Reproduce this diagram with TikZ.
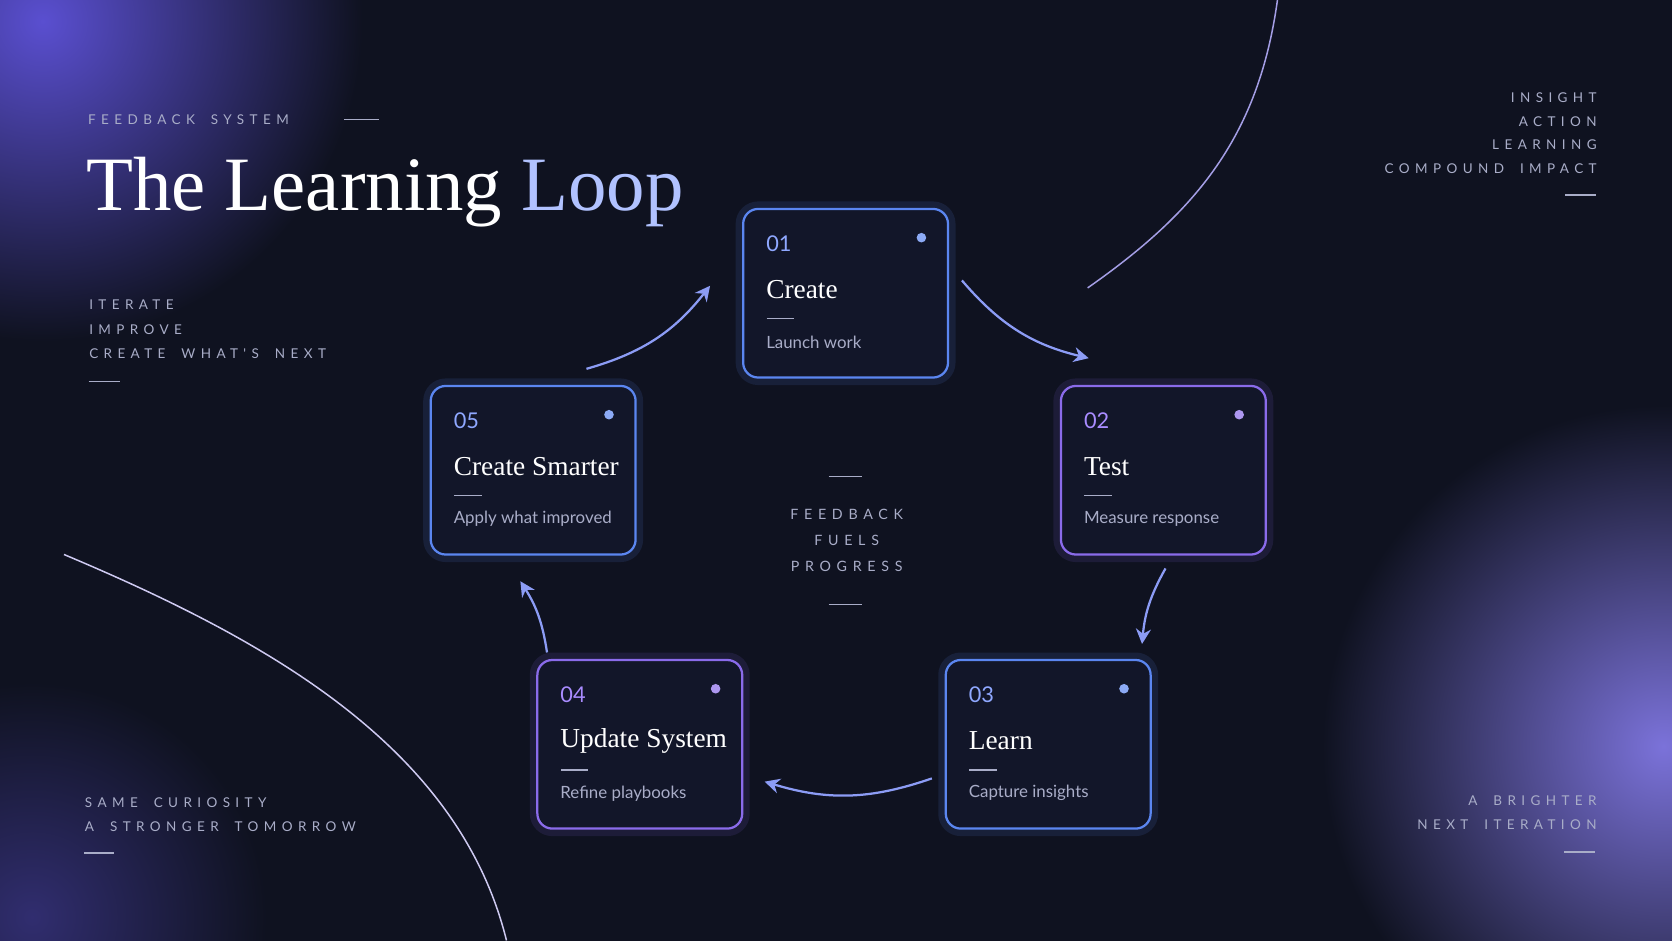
\documentclass[tikz,border=0pt]{standalone}
\usepackage{fontspec}
\setmainfont{Liberation Serif}
\newfontfamily\lato{Lato}
\newfontfamily\spaced[LetterSpace=40,WordSpace=1.8]{Lato}
\usetikzlibrary{positioning,calc,arrows.meta}
\definecolor{bgc}{HTML}{0F1220}
\definecolor{glowc}{HTML}{5A4FD0}
\definecolor{edgeb}{HTML}{5B86F0}
\definecolor{edgep}{HTML}{8A6BEA}
\definecolor{dimtxt}{HTML}{A9ADC8}
\definecolor{numb}{HTML}{8FA8FF}
\definecolor{nump}{HTML}{A98CFF}
\definecolor{arrowc}{HTML}{8C9CF5}
\definecolor{cardfill}{HTML}{121629}
\tikzset{
  card/.style={draw=#1, line width=0.6pt, rounded corners=0.14cm, fill=cardfill,
    minimum width=1.92cm, minimum height=1.58cm, inner sep=0pt},
  glow/.style={draw=#1, line width=4pt, rounded corners=0.14cm, opacity=0.12,
    minimum width=1.92cm, minimum height=1.58cm},
  small/.style={text=dimtxt, font=\spaced\fontsize{3.6}{5}\selectfont, inner sep=0pt},
  flow/.style={arrowc, line width=0.6pt, -{Stealth[length=4pt,width=4pt]}},
  rulew/.style={dimtxt, line width=0.4pt}
}
\newcommand{\stepcard}[6]{% name, x, y, colour, number colour, number
  \node[glow=#4] at (#2,#3) {};
  \node[card=#4] (#1) at (#2,#3) {};
  \node[anchor=west, text=#5, font=\lato\fontsize{5.8}{7}\selectfont, inner sep=0pt]
    at ($(#1.north west)+(22,34)$) {#6};
  \fill[#4!70!white] ($(#1.north east)+(-26,28)$) circle (4.5);
}
\begin{document}
\begin{tikzpicture}[x=0.01cm, y=-0.01cm]
  \useasboundingbox (0,0) rectangle (1568,882);
  \fill[bgc] (-5,-5) rectangle (1573,887);
  % corner glows
  \begin{scope}
    \clip (0,0) rectangle (1568,882);
    \shade[inner color=glowc, outer color=bgc] (40,20) circle (300);
    \shade[inner color=glowc!80, outer color=bgc] (1560,700) circle (320);
    \shade[inner color=glowc!45!bgc, outer color=bgc] (30,860) circle (220);
    \draw[glowc!55, line width=0.4pt] (1198,0) .. controls (1180,130) and (1120,200) .. (1020,270);
    \draw[glowc!30, line width=0.4pt] (60,520) .. controls (250,600) and (430,700) .. (475,882);
  \end{scope}
  % heading
  \node[small, anchor=west] (kicker) at (82,112) {FEEDBACK SYSTEM};
  \draw[rulew] (323,112) -- (355,112);
  \node[anchor=west, inner sep=0pt, font=\fontsize{20.5}{24}\selectfont] (title) at (80,180)
    {\color{white}The Learning \color{numb!70!white}Loop};
  % side texts
  \node[small, anchor=west] at (83,286) {ITERATE};
  \node[small, anchor=west] at (83,309) {IMPROVE};
  \node[small, anchor=west] at (83,332) {CREATE WHAT'S NEXT};
  \draw[rulew] (83,358) -- (113,358);
  \node[small, anchor=east] at (1498,92) {INSIGHT};
  \node[small, anchor=east] at (1498,114) {ACTION};
  \node[small, anchor=east] at (1498,136) {LEARNING};
  \node[small, anchor=east] at (1498,158) {COMPOUND IMPACT};
  \draw[rulew] (1468,183) -- (1497,183);
  \node[small, anchor=west] at (79,753) {SAME CURIOSITY};
  \node[small, anchor=west] at (79,775) {A STRONGER TOMORROW};
  \draw[rulew] (79,800) -- (107,800);
  \node[small, anchor=east] at (1498,751) {A BRIGHTER};
  \node[small, anchor=east] at (1498,773) {NEXT ITERATION};
  \draw[rulew] (1467,799) -- (1496,799);
  % centre
  \draw[rulew] (777,447) -- (808,447);
  \node[small, align=center, font=\spaced\fontsize{3.8}{7}\selectfont] at (794,507)
    {FEEDBACK\\FUELS\\PROGRESS};
  \draw[rulew] (777,567) -- (808,567);
  % cards
  \stepcard{c1}{793}{275}{edgeb}{numb}{01}
  \stepcard{c2}{1091}{441}{edgep}{nump}{02}
  \stepcard{c3}{983}{698}{edgeb}{numb}{03}
  \stepcard{c4}{600}{698}{edgep}{nump}{04}
  \stepcard{c5}{500}{441}{edgeb}{numb}{05}
  \foreach \n/\t/\s in {c1/Create/Launch work, c2/Test/Measure response,
      c3/Learn/Capture insights, c4/Update System/Refine playbooks,
      c5/Create Smarter/Apply what improved}{
    \node[anchor=west, text=white, font=\fontsize{7.3}{9}\selectfont, inner sep=0pt]
      at ($(\n.north west)+(22,77)$) {\t};
    \draw[dimtxt] ($(\n.north west)+(23,104)$) -- ++(26,0);
    \node[anchor=west, text=dimtxt, font=\lato\fontsize{4.5}{6}\selectfont, inner sep=0pt]
      at ($(\n.north west)+(22,126)$) {\s};
  }
  % connectors
  \coordinate (a1) at ($(c5.north)+(50,-15)$);
  \coordinate (b1) at ($(c1.west)+(-30,-7)$);
  \coordinate (a2) at ($(c1.east)+(12,-12)$);
  \coordinate (b2) at ($(c2.north)+(-70,-25)$);
  \coordinate (a3) at ($(c2.south)+(2,12)$);
  \coordinate (b3) at ($(c3.north)+(88,-14)$);
  \coordinate (a4) at ($(c3.west)+(-12,32)$);
  \coordinate (b4) at ($(c4.east)+(20,35)$);
  \coordinate (a5) at ($(c4.north)+(-87,-6)$);
  \coordinate (b5) at ($(c5.south)+(-12,24)$);
  \draw[flow] (a1) to[bend right=18] (b1);
  \draw[flow] (a2) to[bend right=18] (b2);
  \draw[flow] (a3) to[bend right=12] (b3);
  \draw[flow] (a4) to[bend left=18] (b4);
  \draw[flow] (a5) to[bend right=12] (b5);
\end{tikzpicture}
\end{document}
